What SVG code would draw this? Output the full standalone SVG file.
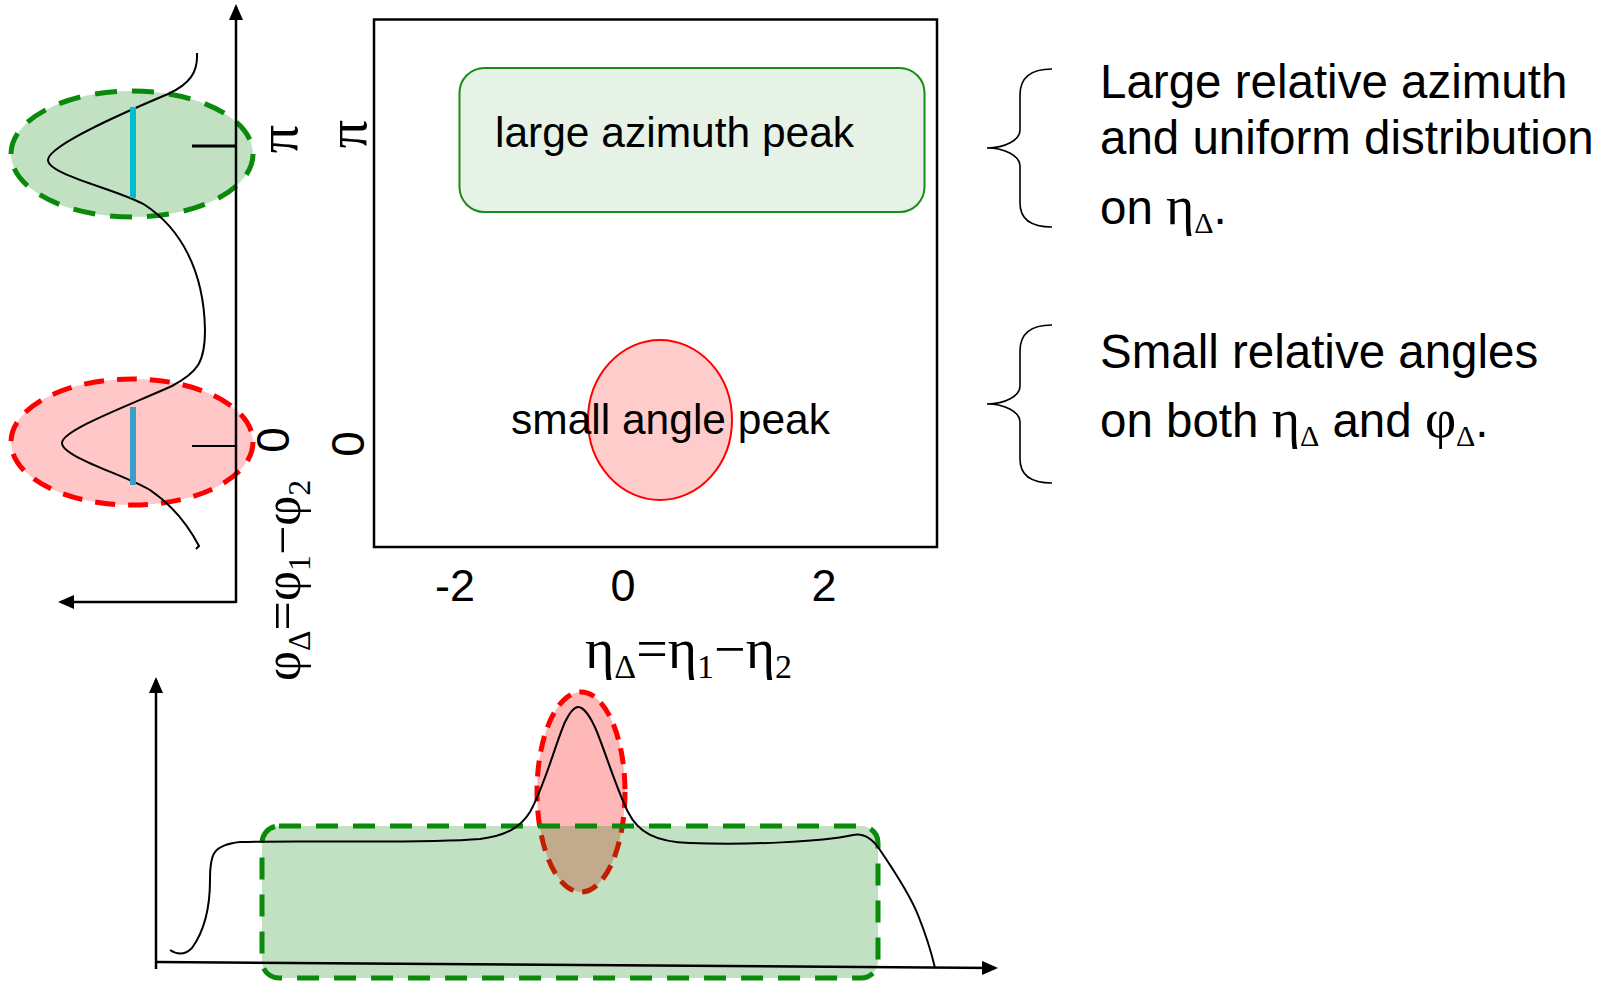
<svg xmlns="http://www.w3.org/2000/svg" width="1612" height="981" viewBox="0 0 1612 981">
<style>
.ax{stroke:#000;stroke-width:2.5;fill:none}
.crv{stroke:#000;stroke-width:2;fill:none}
.sans{font-family:"Liberation Sans",Arial,sans-serif;fill:#000}
.serif{font-family:"Liberation Serif","Times New Roman",serif;fill:#000}
.gdash{fill:#008000;fill-opacity:0.24;stroke:#0a8a0a;stroke-width:5;stroke-dasharray:22 15}
.rdash{fill:#ff0000;fill-opacity:0.22;stroke:#ff0000;stroke-width:5;stroke-dasharray:20 13}
.brace{stroke:#000;stroke-width:1.6;fill:none}
</style>
<defs>
<marker id="arr" viewBox="0 0 16 14" refX="13" refY="7" markerWidth="16" markerHeight="14" markerUnits="userSpaceOnUse" orient="auto">
<path d="M0,0 L16,7 L0,14 z" fill="#000"/>
</marker>
</defs>
<rect width="1612" height="981" fill="#fff"/>

<g id="left-plot">
<g id="left-green-peak"><ellipse class="gdash" cx="132" cy="154" rx="121" ry="63"/></g>
<g id="left-red-peak"><ellipse class="rdash" cx="132" cy="442" rx="121" ry="63"/></g>
<g id="left-axes">
<line class="ax" x1="236" y1="603" x2="236" y2="7" marker-end="url(#arr)"/>
<line class="ax" x1="236" y1="602" x2="61" y2="602" marker-end="url(#arr)"/>
<line x1="192" y1="146" x2="236" y2="146" stroke="#000" stroke-width="3"/>
<line x1="192" y1="446" x2="236" y2="446" stroke="#000" stroke-width="1.8"/>
</g>
<path id="left-curve" class="crv" d="M197,53 C198,72 190,84 168,94 C130,110 48,145 48,160 C48,175 120,190 145,205 C180,228 204,270 205,330 C205,362 198,372 172,386 C130,405 62,430 62,443 C62,457 125,475 150,490 C172,505 188,525 199,546 L196,549"/>
<line x1="133" y1="107" x2="133" y2="198" stroke="#00bccc" stroke-width="6"/>
<line x1="133" y1="407" x2="133" y2="485" stroke="#3a9ec8" stroke-width="6"/>
<text class="serif" font-size="56" text-anchor="middle" transform="translate(297,139) rotate(-90)">π</text>
<text class="sans" font-size="46" text-anchor="middle" transform="translate(289,440) rotate(-90)">0</text>
<text class="serif" font-size="52" transform="translate(300,681) rotate(-90)">φ<tspan font-size="32" dy="10">Δ</tspan><tspan dy="-10">=φ</tspan><tspan font-size="32" dy="10">1</tspan><tspan dy="-10">−φ</tspan><tspan font-size="32" dy="10">2</tspan></text>
</g>

<g id="main-plot">
<rect x="374" y="19.5" width="563" height="527.5" fill="none" stroke="#000" stroke-width="2.5"/>
<g id="large-azimuth-peak">
<rect x="459.5" y="68" width="465" height="144" rx="25" fill="#e6f2e6" stroke="#1a8c1a" stroke-width="2"/>
<text class="sans" font-size="42.5" x="495" y="147">large azimuth peak</text>
</g>
<g id="small-angle-peak">
<ellipse cx="660" cy="420" rx="72" ry="80" fill="#ffcccc" stroke="#ff0000" stroke-width="2"/>
<text class="sans" font-size="42.5" x="511" y="434">small angle peak</text>
</g>
<text class="serif" font-size="56" text-anchor="middle" transform="translate(366,134) rotate(-90)">π</text>
<text class="sans" font-size="46" text-anchor="middle" transform="translate(364,444) rotate(-90)">0</text>
<text class="sans" font-size="45" text-anchor="middle" x="455" y="601">-2</text>
<text class="sans" font-size="45" text-anchor="middle" x="623" y="601">0</text>
<text class="sans" font-size="45" text-anchor="middle" x="824" y="601">2</text>
<text class="serif" font-size="56" x="585" y="668">η<tspan font-size="34" dy="10">Δ</tspan><tspan dy="-10">=η</tspan><tspan font-size="34" dy="10">1</tspan><tspan dy="-10">−η</tspan><tspan font-size="34" dy="10">2</tspan></text>
</g>

<g id="bottom-plot">
<g id="bottom-red-peak"><ellipse cx="581" cy="792" rx="44" ry="100" fill="#ff0000" fill-opacity="0.28" stroke="#ff0000" stroke-width="5" stroke-dasharray="16 9"/></g>
<g id="bottom-green-band"><rect x="262" y="826" width="616" height="152" rx="17" class="gdash" fill-opacity="0.25"/></g>
<path id="bottom-curve" class="crv" d="M170,950 C176,954 184,956 192,948 C205,930 210,905 210,880 C210,855 212,845 240,842 C300,840 420,844 480,839 C505,836 520,828 530,812 C545,785 555,745 565,722 C570,712 574,707 578,707 C583,707 590,715 597,732 C607,757 617,790 628,812 C638,832 655,842 690,843 C750,845 820,842 853,835 C863,833 872,838 880,850 C895,872 910,895 918,915 C926,935 932,955 935,968"/>
<g id="bottom-axes">
<line class="ax" x1="156" y1="969" x2="156" y2="680" marker-end="url(#arr)"/>
<line class="ax" x1="156" y1="962" x2="995" y2="968" marker-end="url(#arr)"/>
</g>
</g>

<g id="annotations">
<g id="note-large">
<path class="brace" d="M1052,69 C1030,69 1020,78 1020,95 L1020,130 C1020,140 1005,148 987,148 C1005,148 1020,156 1020,166 L1020,203 C1020,218 1030,227 1052,227"/>
<text class="sans" font-size="47.5" x="1100" y="98">Large relative azimuth</text>
<text class="sans" font-size="47.5" x="1100" y="154">and uniform distribution</text>
<text class="sans" font-size="47.5" x="1100" y="224">on <tspan class="serif" font-size="54">η</tspan><tspan class="serif" font-size="30" dy="9">Δ</tspan><tspan dy="-9">.</tspan></text>
</g>
<g id="note-small">
<path class="brace" d="M1052,325 C1030,325 1020,334 1020,351 L1020,386 C1020,396 1005,404 987,404 C1005,404 1020,412 1020,422 L1020,459 C1020,474 1030,483 1052,483"/>
<text class="sans" font-size="47.5" x="1100" y="368">Small relative angles</text>
<text class="sans" font-size="47.5" x="1100" y="437">on both <tspan class="serif" font-size="54">η</tspan><tspan class="serif" font-size="30" dy="9">Δ</tspan><tspan dy="-9"> and </tspan><tspan class="serif" font-size="54">φ</tspan><tspan class="serif" font-size="30" dy="9">Δ</tspan><tspan dy="-9">.</tspan></text>
</g>
</g>
</svg>
